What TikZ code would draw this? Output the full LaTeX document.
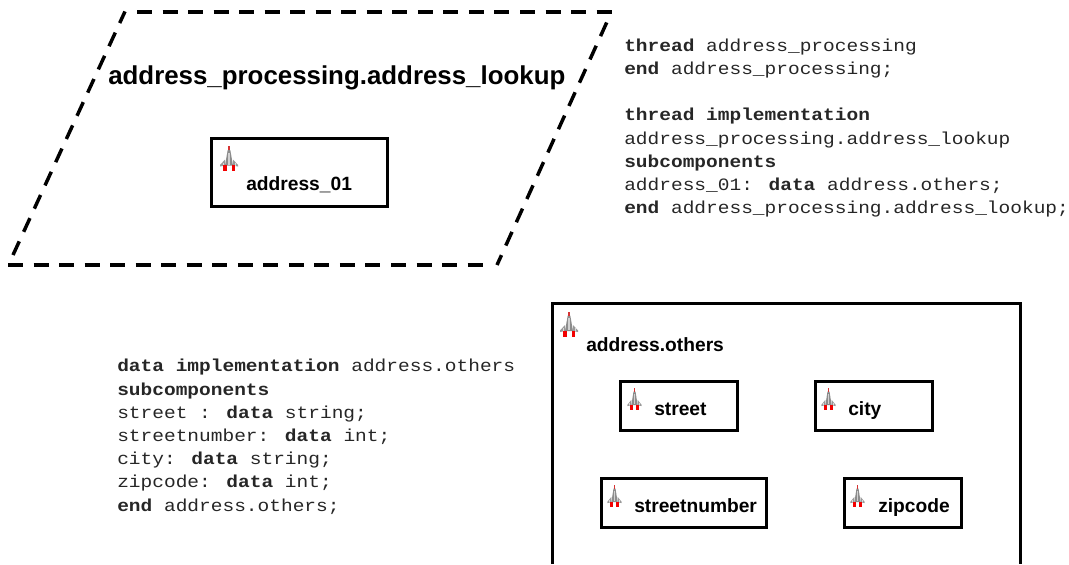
\documentclass[tikz,border=0pt]{standalone}
\usepackage{fontspec}
\setmainfont{Liberation Sans}
\newfontfamily\codefont{Liberation Mono}[FakeStretch=1.125]
\tikzset{
  x=0.75pt,y=-0.75pt,
  boxnode/.style={draw=black,line width=2.25pt,fill=white,rectangle,inner sep=0pt,minimum width=#1},
  edge dash/.style={line width=2.6pt,dash pattern=on 11.25pt off 7.9pt},
  lab/.style={font=\bfseries\fontsize{14.4pt}{16pt}\selectfont,inner sep=0pt,anchor=base west,text=black},
  code/.style={font=\codefont\fontsize{13pt}{17.4pt}\selectfont,align=left,inner sep=0pt,anchor=north west,text=black!85},
  pics/rocket/.style={code={
    \fill[black!40] (-4,1) -- (-9,6.5) -- (-9,8) -- (-4,7) -- cycle;
    \fill[black!40] (4,1) -- (9,6.5) -- (9,8) -- (4,7) -- cycle;
    \fill[black!45] (-1.3,-8.5) -- (1.3,-8.5) -- (4,7) -- (-4,7) -- cycle;
    \fill[black!18] (-0.8,-6) rectangle (0.8,6);
    \fill[black!15] (-6.5,4) rectangle (-5.5,7);
    \fill[black!15] (5.5,4) rectangle (6.5,7);
    \fill[red!95!black] (-5.8,6.5) rectangle (-2.5,12.5);
    \fill[red!95!black] (2.5,6.5) rectangle (5.8,12.5);
    \fill[red!80!black!80!white] (-1.1,-12.5) rectangle (1.1,-8.5);
  }}
}
\begin{document}
\begin{tikzpicture}
\useasboundingbox (0,0) rectangle (1069,564);
% thread: each edge carries its own dash phase
\coordinate (ptl) at (125,11.5);
\coordinate (ptla) at (137,12);
\coordinate (ptr) at (612,12);
\coordinate (prt) at (606.7,22.5);
\coordinate (prb) at (497,265);
\coordinate (pbr) at (483,265);
\coordinate (pbl) at (8,265);
\coordinate (plb) at (13,255);
\draw[edge dash] (ptla) -- (ptr);
\draw[edge dash] (prt) -- (prb);
\draw[edge dash] (pbl) -- (pbr);
\draw[edge dash] (plb) -- (ptl);
\node[font=\bfseries\fontsize{19.4pt}{20pt}\selectfont,inner sep=0pt,anchor=base west] (title) at (108,84) {address\_processing.address\_lookup};
% box address_01
\node[boxnode=176*0.75pt,minimum height=51pt] (addr) at (299.5,172.5) {};
\pic at (229,158.5) {rocket};
\node[lab] (addrlab) at (246,190) {address\_01};
% code top
\node[code] (codetop) at (624,38.5) {\textbf{thread} address\_processing\\\textbf{end} address\_processing;\\[17.4pt]\textbf{thread implementation}\\address\_processing.address\_lookup\\\textbf{subcomponents}\\address\_01: \textbf{data} address.others;\\\textbf{end} address\_processing.address\_lookup;};
% code bottom
\node[code] (codebot) at (117,359) {\textbf{data implementation} address.others\\\textbf{subcomponents}\\street : \textbf{data} string;\\streetnumber: \textbf{data} int;\\city: \textbf{data} string;\\zipcode: \textbf{data} int;\\\textbf{end} address.others;};
% outer box, cut off by the picture's bottom edge
\coordinate (obl) at (552,564);
\coordinate (otl) at (552,303);
\coordinate (otr) at (1020.5,303);
\coordinate (obr) at (1020.5,564);
\draw[line width=2.25pt,line join=miter] (obl) -- (otl) -- (otr) -- (obr);
\pic at (569,324) {rocket};
\node[lab] (otherslab) at (586,351) {address.others};
% inner boxes
\node[boxnode=117*0.75pt,minimum height=37pt] (street) at (679,406) {};
\pic[xscale=0.78,yscale=0.88] at (634.5,399) {rocket};
\node[lab] (streetlab) at (654,415) {street};
\node[boxnode=117*0.75pt,minimum height=37pt] (city) at (874,406) {};
\pic[xscale=0.78,yscale=0.88] at (828.5,399) {rocket};
\node[lab] (citylab) at (848,415) {city};
\node[boxnode=165*0.75pt,minimum height=37pt] (snum) at (684,503) {};
\pic[xscale=0.78,yscale=0.88] at (614.5,496) {rocket};
\node[lab] (snumlab) at (634,512) {streetnumber};
\node[boxnode=117*0.75pt,minimum height=37pt] (zip) at (903,503) {};
\pic[xscale=0.78,yscale=0.88] at (857.5,496) {rocket};
\node[lab] (ziplab) at (878,512) {zipcode};
\end{tikzpicture}
\end{document}
